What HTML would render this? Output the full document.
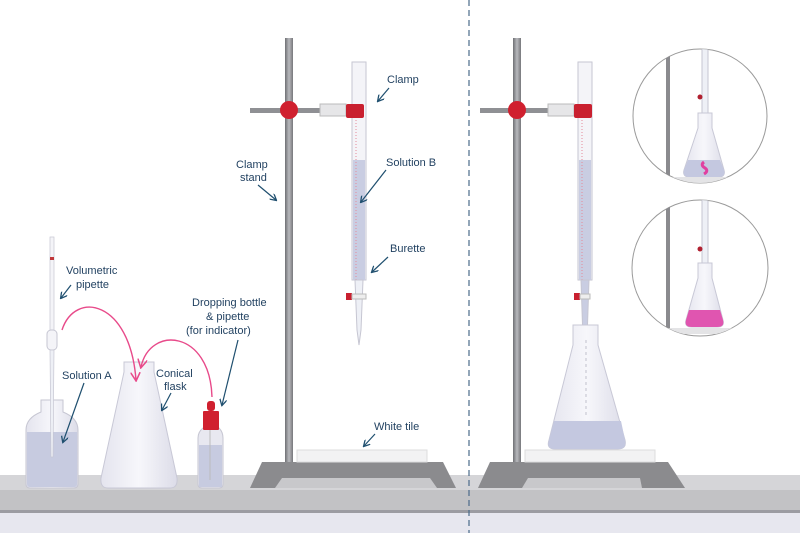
<!DOCTYPE html>
<html><head><meta charset="utf-8"><style>
html,body{margin:0;padding:0;background:#fff}
svg{display:block}
text{font-family:"Liberation Sans",sans-serif;font-size:11px;fill:#1f3f5f}
</style></head><body>
<svg width="800" height="533" viewBox="0 0 800 533" xmlns="http://www.w3.org/2000/svg">
<defs>
<marker id="ah" viewBox="0 0 10 10" refX="8" refY="5" markerWidth="6" markerHeight="6" orient="auto"><path d="M0,0 L9,5 L0,10" fill="none" stroke="#1f4f6f" stroke-width="1.8"/></marker>
<marker id="ap" viewBox="0 0 10 10" refX="8" refY="5" markerWidth="7" markerHeight="7" orient="auto"><path d="M0,0 L9,5 L0,10" fill="none" stroke="#e84a8a" stroke-width="1.6"/></marker>
<linearGradient id="rod" x1="0" x2="1"><stop offset="0" stop-color="#6f7074"/><stop offset=".5" stop-color="#b8b9bd"/><stop offset="1" stop-color="#77787c"/></linearGradient>
<linearGradient id="glass" x1="0" x2="1"><stop offset="0" stop-color="#e4e4ee"/><stop offset=".5" stop-color="#f7f7fb"/><stop offset="1" stop-color="#dcdce8"/></linearGradient>
<clipPath id="c1"><circle cx="700" cy="116" r="67"/></clipPath>
<clipPath id="c2"><circle cx="700" cy="268" r="68"/></clipPath>
</defs>
<!-- floor / bench -->
<rect x="0" y="513" width="800" height="20" fill="#e7e7ef"/>
<rect x="0" y="475" width="800" height="15" fill="#d5d5d8"/>
<rect x="0" y="490" width="800" height="22" fill="#c2c2c5"/>
<rect x="0" y="510" width="800" height="3" fill="#9c9ca2"/>
<!-- dashed divider -->
<line x1="469" y1="0" x2="469" y2="533" stroke="#4a6a8a" stroke-width="1.2" stroke-dasharray="6,4"/>

<!-- LEFT STAND -->
<path d="M262,462 L443,462 L456,488 L250,488 Z" fill="#8b8b8e"/>
<path d="M275,488 L282,478 L430,478 L437,488 Z" fill="#c8c8cb"/>
<rect x="297" y="450" width="130" height="12" fill="#f2f2f3" stroke="#dcdcde"/>
<rect x="285" y="38" width="8" height="424" fill="url(#rod)"/>
<rect x="250" y="108" width="100" height="5" fill="#8f9094"/>
<rect x="320" y="104" width="26" height="12" fill="#e6e6e8" stroke="#bbb"/>
<circle cx="289" cy="110" r="9" fill="#d0202f"/>
<!-- burette left -->
<rect x="352" y="62" width="14" height="218" fill="#f4f4f8" stroke="#c6c6d2"/>
<rect x="353" y="160" width="12" height="120" fill="#c9cde2"/>
<line x1="356" y1="105" x2="356" y2="280" stroke="#e58a9a" stroke-dasharray="1,2"/>
<path d="M355,280 L363,280 L361,330 L359,345 L357,330 Z" fill="#eef0f6" stroke="#c6c6d2"/>
<rect x="346" y="104" width="18" height="14" rx="2" fill="#c9202f"/>
<rect x="346" y="293" width="6" height="7" fill="#c9202f"/>
<rect x="352" y="294" width="14" height="5" fill="#eee" stroke="#bbb"/>

<!-- RIGHT STAND -->
<path d="M490,462 L668,462 L685,488 L478,488 Z" fill="#8b8b8e"/>
<path d="M522,488 L528,478 L640,478 L642,488 Z" fill="#c8c8cb"/>
<rect x="525" y="450" width="130" height="12" fill="#f2f2f3" stroke="#dcdcde"/>
<rect x="513" y="38" width="8" height="424" fill="url(#rod)"/>
<rect x="480" y="108" width="100" height="5" fill="#8f9094"/>
<rect x="548" y="104" width="26" height="12" fill="#e6e6e8" stroke="#bbb"/>
<circle cx="517" cy="110" r="9" fill="#d0202f"/>
<rect x="578" y="62" width="14" height="218" fill="#f4f4f8" stroke="#c6c6d2"/>
<rect x="579" y="160" width="12" height="120" fill="#c9cde2"/>
<line x1="582" y1="105" x2="582" y2="280" stroke="#e58a9a" stroke-dasharray="1,2"/>
<path d="M581,280 L589,280 L587,340 L583,340 Z" fill="#c9cde2" stroke="#c6c6d2"/>
<rect x="574" y="104" width="18" height="14" rx="2" fill="#c9202f"/>
<rect x="574" y="293" width="6" height="7" fill="#c9202f"/>
<rect x="580" y="294" width="10" height="5" fill="#eee" stroke="#bbb"/>
<!-- right flask -->
<path d="M573,325 L598,325 L598,345 L625,440 Q627,449 618,449 L555,449 Q546,449 549,440 L573,345 Z" fill="url(#glass)" stroke="#c8c8d6"/>
<path d="M554,421 L621,421 L625,440 Q627,449 618,449 L555,449 Q546,449 549,440 Z" fill="#c4c8e0"/>
<line x1="586" y1="340" x2="586" y2="418" stroke="#c0c0cc" stroke-dasharray="3,3"/>

<!-- circles -->
<circle cx="700" cy="116" r="67" fill="#fff" stroke="#9a9a9a"/>
<g clip-path="url(#c1)">
<rect x="666" y="40" width="4" height="137" fill="#8a8a8e"/>
<rect x="702" y="40" width="6" height="73" fill="#eef0f6" stroke="#c6c6d2"/>
<circle cx="700" cy="97" r="2.5" fill="#b02030"/>
<path d="M698,113 L712,113 L712,128 L724,170 Q726,177 718,177 L690,177 Q682,177 684,170 L698,128 Z" fill="url(#glass)" stroke="#c8c8d6"/>
<path d="M688,160 L720,160 L724,170 Q726,177 718,177 L690,177 Q682,177 684,170 Z" fill="#c4c8e0"/>
<path d="M704,162 q-4,3 1,6 q4,3 -1,6" stroke="#e040a0" stroke-width="3" fill="none"/>
<rect x="660" y="177" width="90" height="6" fill="#e4e4e6"/>
</g>
<circle cx="700" cy="268" r="68" fill="#fff" stroke="#9a9a9a"/>
<g clip-path="url(#c2)">
<rect x="666" y="200" width="4" height="130" fill="#8a8a8e"/>
<rect x="702" y="195" width="6" height="72" fill="#eef0f6" stroke="#c6c6d2"/>
<circle cx="700" cy="249" r="2.5" fill="#b02030"/>
<path d="M698,263 L712,263 L712,278 L723,320 Q725,327 717,327 L692,327 Q684,327 686,320 L698,278 Z" fill="url(#glass)" stroke="#c8c8d6"/>
<path d="M689,310 L720,310 L723,320 Q725,327 717,327 L692,327 Q684,327 686,320 Z" fill="#e055b0"/>
<rect x="660" y="328" width="90" height="6" fill="#e4e4e6"/>
</g>

<!-- LEFT ITEMS -->
<path d="M41,400 L63,400 L63,412 Q78,418 78,430 L78,484 Q78,488 74,488 L30,488 Q26,488 26,484 L26,430 Q26,418 41,412 Z" fill="url(#glass)" stroke="#c6c6d2"/>
<path d="M27,432 L77,432 L77,484 Q77,487 74,487 L30,487 Q27,487 27,484 Z" fill="#c7cbe0"/>
<rect x="50" y="237" width="4" height="95" fill="#f4f4f8" stroke="#c6c6d2" stroke-width=".7"/>
<rect x="50" y="257" width="4" height="3" fill="#c0383a"/>
<rect x="47" y="330" width="10" height="20" rx="4" fill="#f4f4f8" stroke="#c6c6d2"/>
<path d="M50,350 L54,350 L53,457 L51,457 Z" fill="#eef0f6" stroke="#c6c6d2" stroke-width=".7"/>
<path d="M124,362 L154,362 L154,372 L177,478 Q178,488 170,488 L108,488 Q100,488 101,478 L124,372 Z" fill="url(#glass)" stroke="#c8c8d6"/>
<path d="M203,428 L219,428 Q223,432 223,438 L223,484 Q223,488 219,488 L202,488 Q198,488 198,484 L198,438 Q198,432 203,428 Z" fill="#e8e8f0" stroke="#c6c6d2"/>
<rect x="199" y="445" width="23" height="42" fill="#c7cbe0"/>
<line x1="210" y1="430" x2="210" y2="480" stroke="#bbb"/>
<rect x="207" y="401" width="8" height="10" rx="3" fill="#d0202f"/>
<rect x="203" y="411" width="16" height="19" rx="1" fill="#d0202f"/>

<!-- pink arrows -->
<path d="M62,330 C75,290 130,300 136,380" fill="none" stroke="#e84a8a" stroke-width="1.4" marker-end="url(#ap)"/>
<path d="M212,397 C210,330 150,325 141,367" fill="none" stroke="#e84a8a" stroke-width="1.4" marker-end="url(#ap)"/>

<!-- labels -->
<text x="66" y="274">Volumetric</text>
<text x="76" y="288">pipette</text>
<line x1="71" y1="285" x2="61" y2="298" stroke="#1f4f6f" stroke-width="1.2" marker-end="url(#ah)"/>
<text x="62" y="379">Solution A</text>
<line x1="84" y1="383" x2="63" y2="442" stroke="#1f4f6f" stroke-width="1.2" marker-end="url(#ah)"/>
<text x="156" y="377">Conical</text>
<text x="164" y="390">flask</text>
<line x1="171" y1="393" x2="162" y2="410" stroke="#1f4f6f" stroke-width="1.2" marker-end="url(#ah)"/>
<text x="192" y="306">Dropping bottle</text>
<text x="206" y="320">&amp; pipette</text>
<text x="186" y="334">(for indicator)</text>
<line x1="238" y1="340" x2="222" y2="405" stroke="#1f4f6f" stroke-width="1.2" marker-end="url(#ah)"/>
<text x="236" y="168">Clamp</text>
<text x="240" y="181">stand</text>
<line x1="258" y1="185" x2="276" y2="200" stroke="#1f4f6f" stroke-width="1.2" marker-end="url(#ah)"/>
<text x="387" y="83">Clamp</text>
<line x1="389" y1="88" x2="378" y2="101" stroke="#1f4f6f" stroke-width="1.2" marker-end="url(#ah)"/>
<text x="386" y="166">Solution B</text>
<line x1="386" y1="170" x2="361" y2="202" stroke="#1f4f6f" stroke-width="1.2" marker-end="url(#ah)"/>
<text x="390" y="252">Burette</text>
<line x1="388" y1="257" x2="372" y2="272" stroke="#1f4f6f" stroke-width="1.2" marker-end="url(#ah)"/>
<text x="374" y="430">White tile</text>
<line x1="375" y1="434" x2="364" y2="446" stroke="#1f4f6f" stroke-width="1.2" marker-end="url(#ah)"/>
</svg>
</body></html>
